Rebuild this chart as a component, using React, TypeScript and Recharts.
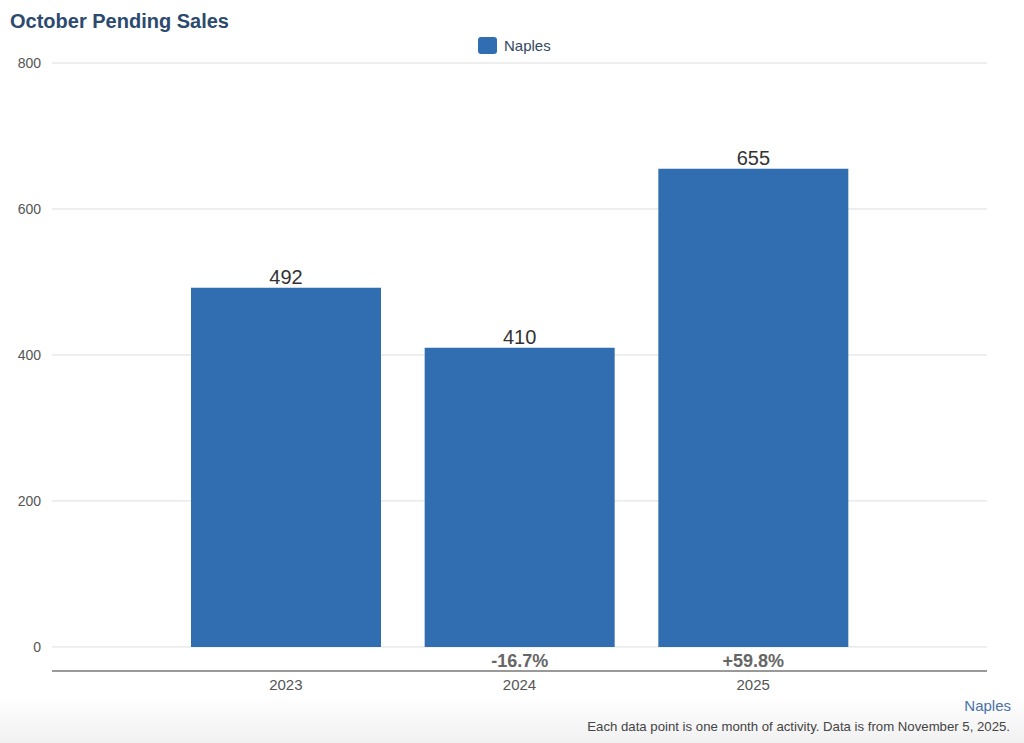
import React from "react";
import { BarChart, Bar, XAxis, YAxis, CartesianGrid, LabelList } from "recharts";

const years = ["2023", "2024", "2025"];
const pendingSales = [492, 410, 655];
const changeLabels = ["", "-16.7%", "+59.8%"];
const yTicks = [0, 200, 400, 600, 800];

const data = years.map((year, i) => ({
  year,
  value: pendingSales[i],
  change: changeLabels[i],
}));

const FONT = "'Liberation Sans', Arial, Helvetica, sans-serif";
const BAR_COLOR = "#306eb1";

const ChangeLabel = (props: any) => {
  const { x, y, width, height, value } = props;
  if (!value) return null;
  return (
    <text
      x={x + width / 2}
      y={y + height + 20}
      textAnchor="middle"
      fontSize={18}
      fontWeight="bold"
      fill="#666"
      fontFamily={FONT}
    >
      {value}
    </text>
  );
};

export default function App() {
  return (
    <div
      style={{
        position: "absolute",
        left: 0,
        top: 0,
        width: 1024,
        height: 743,
        background: "#fff",
        fontFamily: FONT,
        overflow: "hidden",
      }}
    >
      <div
        style={{
          position: "absolute",
          left: 0,
          top: 695,
          width: 1024,
          height: 48,
          background: "linear-gradient(to bottom, #ffffff, #f1f1f1)",
        }}
      />
      <div
        style={{
          position: "absolute",
          left: 10,
          top: 9,
          fontSize: 20,
          fontWeight: "bold",
          color: "#2c4a6e",
          lineHeight: "24px",
        }}
      >
        October Pending Sales
      </div>
      <div
        style={{
          position: "absolute",
          left: 478,
          top: 37,
          display: "flex",
          alignItems: "center",
          fontSize: 15,
          color: "#34495e",
        }}
      >
        <span
          style={{
            display: "inline-block",
            width: 19,
            height: 17,
            borderRadius: 3,
            background: BAR_COLOR,
            marginRight: 7,
          }}
        />
        <span>Naples</span>
      </div>
      <div style={{ position: "absolute", left: 0, top: 0 }}>
        <BarChart
          width={1024}
          height={700}
          data={data}
          margin={{ top: 63, right: 37, bottom: 0, left: 0 }}
        >
          <CartesianGrid vertical={false} stroke="#dedede" strokeWidth={1} />
          <XAxis
            dataKey="year"
            padding={{ left: 117, right: 117 }}
            axisLine={{ stroke: "#999", strokeWidth: 2 }}
            tickLine={false}
            tick={{ fontSize: 15, fill: "#555", fontFamily: FONT }}
            height={29}
          />
          <YAxis
            width={52}
            domain={[-33, 800]}
            ticks={yTicks}
            axisLine={false}
            tickLine={false}
            tickMargin={5}
            tick={{ fontSize: 14, fill: "#555", fontFamily: FONT }}
            allowDataOverflow
          />
          <Bar dataKey="value" fill={BAR_COLOR} barSize={190} isAnimationActive={false}>
            <LabelList
              dataKey="value"
              position="top"
              offset={4}
              style={{ fontSize: 20, fill: "#333", fontFamily: FONT }}
            />
            <LabelList dataKey="change" content={ChangeLabel} />
          </Bar>
        </BarChart>
      </div>
      <div
        style={{
          position: "absolute",
          right: 13,
          top: 697,
          fontSize: 15,
          color: "#4a72a8",
        }}
      >
        Naples
      </div>
      <div
        style={{
          position: "absolute",
          right: 14,
          top: 719,
          fontSize: 13.2,
          color: "#444",
        }}
      >
        Each data point is one month of activity. Data is from November 5, 2025.
      </div>
    </div>
  );
}
